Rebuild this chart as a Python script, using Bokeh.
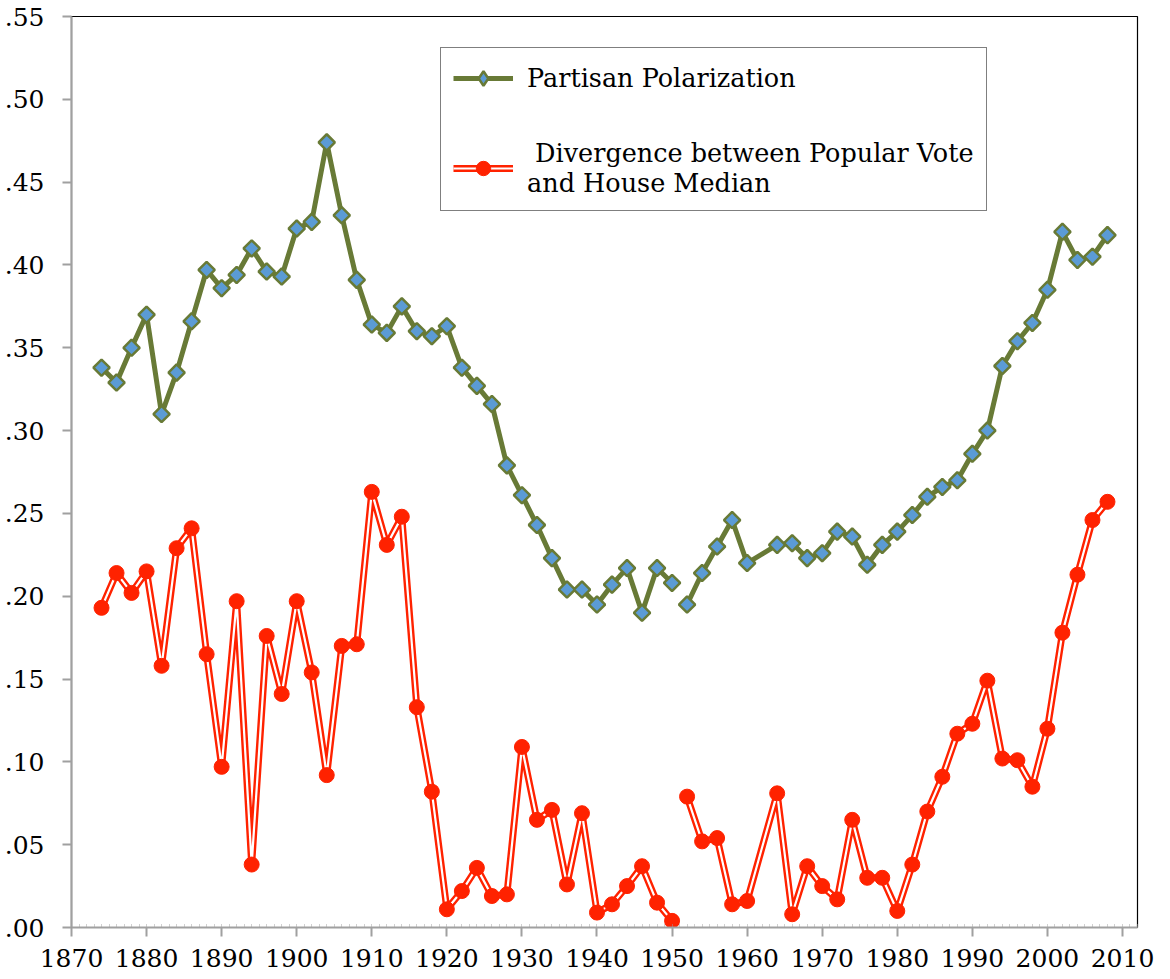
import math
from bokeh.plotting import figure
from bokeh.models import (Range1d, FixedTicker, CustomJSTickFormatter, Legend,
                          LegendItem, Label)
from bokeh.embed import file_html
from bokeh.resources import INLINE

# ---------------- data ----------------
years = [1874, 1876, 1878, 1880, 1882, 1884, 1886, 1888, 1890, 1892, 1894, 1896,
         1898, 1900, 1902, 1904, 1906, 1908, 1910, 1912, 1914, 1916, 1918, 1920,
         1922, 1924, 1926, 1928, 1930, 1932, 1934, 1936, 1938, 1940, 1942, 1944,
         1946, 1948, 1950, 1952, 1954, 1956, 1958, 1960, 1964, 1966, 1968, 1970,
         1972, 1974, 1976, 1978, 1980, 1982, 1984, 1986, 1988, 1990, 1992, 1994,
         1996, 1998, 2000, 2002, 2004, 2006, 2008]

polarization = [0.338, 0.329, 0.350, 0.370, 0.310, 0.335, 0.366, 0.397, 0.386, 0.394,
                0.410, 0.396, 0.393, 0.422, 0.426, 0.474, 0.430, 0.391, 0.364, 0.359,
                0.375, 0.360, 0.357, 0.363, 0.338, 0.327, 0.316, 0.279, 0.261, 0.243,
                0.223, 0.204, 0.204, 0.195, 0.207, 0.217, 0.190, 0.217, 0.208, 0.195,
                0.214, 0.230, 0.246, 0.220, 0.231, 0.232, 0.223, 0.226, 0.239, 0.236,
                0.219, 0.231, 0.239, 0.249, 0.260, 0.266, 0.270, 0.286, 0.300, 0.339,
                0.354, 0.365, 0.385, 0.420, 0.403, 0.405, 0.418]

divergence = [0.193, 0.214, 0.202, 0.215, 0.158, 0.229, 0.241, 0.165, 0.097, 0.197,
              0.038, 0.176, 0.141, 0.197, 0.154, 0.092, 0.170, 0.171, 0.263, 0.231,
              0.248, 0.133, 0.082, 0.011, 0.022, 0.036, 0.019, 0.020, 0.109, 0.065,
              0.071, 0.026, 0.069, 0.009, 0.014, 0.025, 0.037, 0.015, 0.004, 0.079,
              0.052, 0.054, 0.014, 0.016, 0.081, 0.008, 0.037, 0.025, 0.017, 0.065,
              0.030, 0.030, 0.010, 0.038, 0.070, 0.091, 0.117, 0.123, 0.149, 0.102,
              0.101, 0.085, 0.120, 0.178, 0.213, 0.246, 0.257]

break_after_year = 1950          # the lines are interrupted between 1950 and 1952
x_ticks = [1870, 1880, 1890, 1900, 1910, 1920, 1930, 1940, 1950, 1960, 1970,
           1980, 1990, 2000, 2010]
x_minor_ticks = list(range(1870, 2013))
y_ticks = [0.00, 0.05, 0.10, 0.15, 0.20, 0.25, 0.30, 0.35, 0.40, 0.45, 0.50, 0.55]
title_text = "House"
label_polar = "Partisan Polarization"
label_diverg = " Divergence between Popular Vote\nand House Median"

# ---------------- styles ----------------
GREEN = "#687A36"
BLUE = "#5B9BD5"
RED = "#FF2200"
AXIS_GRAY = "#A0A0A0"
FONT = "DejaVu Serif"

p = figure(frame_width=1066, frame_height=911,
           x_range=Range1d(1870, 2012), y_range=Range1d(0, 0.55),
           output_backend="svg", toolbar_location=None,
           min_border_left=71, min_border_top=16, min_border_right=19,
           min_border_bottom=44, background_fill_color="white",
           border_fill_color="white")

p.xgrid.visible = False
p.ygrid.visible = False
p.outline_line_color = "black"
p.outline_line_width = 1.2

# axes
for ax in (p.xaxis[0], p.yaxis[0]):
    ax.axis_line_color = AXIS_GRAY
    ax.axis_line_width = 2
    ax.major_tick_line_color = AXIS_GRAY
    ax.major_tick_line_width = 2
    ax.major_tick_in = 0
    ax.major_tick_out = 9
    ax.major_label_text_font = FONT
    ax.major_label_text_font_size = "25px"
    ax.major_label_text_color = "black"

p.xaxis.ticker = FixedTicker(ticks=x_ticks, minor_ticks=x_minor_ticks)
p.xaxis.minor_tick_in = 3
p.xaxis.minor_tick_out = 0
p.xaxis.minor_tick_line_color = AXIS_GRAY
p.xaxis.minor_tick_line_dash = "1 1"
p.xaxis.major_label_standoff = 12

p.yaxis.ticker = FixedTicker(ticks=y_ticks, minor_ticks=[])
p.yaxis.minor_tick_line_color = None
p.yaxis.major_label_standoff = 18
p.yaxis.formatter = CustomJSTickFormatter(
    code="return tick.toFixed(2).replace(/^0/, '');")

# split indices for the line break
idx_a = [i for i, y in enumerate(years) if y <= break_after_year]
idx_b = [i for i, y in enumerate(years) if y > break_after_year]

def sub(arr, idx):
    return [arr[i] for i in idx]

# ---- red double line series ----
red_renderers = []
for idx in (idx_a, idx_b):
    xs, ys = sub(years, idx), sub(divergence, idx)
    r_out = p.line(xs, ys, line_color=RED, line_width=7, line_join="round")
    r_in = p.line(xs, ys, line_color="white", line_width=2.2, line_join="round")
    red_renderers.extend([r_out, r_in])
red_pts = p.scatter(years, divergence, marker="circle", size=15,
                    fill_color=RED, line_color=RED, line_width=1)

# ---- green polarization series ----
green_renderers = []
for idx in (idx_a, idx_b):
    g = p.line(sub(years, idx), sub(polarization, idx), line_color=GREEN,
               line_width=5, line_join="round")
    green_renderers.append(g)
# diamond marker (used as the legend key; hidden under the rotated squares)
green_key = p.scatter(years, polarization, marker="diamond", size=12,
                      fill_color=BLUE, line_color=GREEN, line_width=2.5)
green_pts = p.scatter(years, polarization, marker="square", size=11.5,
                      angle=math.pi / 4, fill_color=BLUE, line_color=GREEN,
                      line_width=2.5)

# ---- legend ----
legend = Legend(items=[
    LegendItem(label=label_polar, renderers=[green_renderers[0], green_key]),
    LegendItem(label=label_diverg,
               renderers=[red_renderers[0], red_renderers[1], red_pts]),
], location=(369, 716))
legend.border_line_color = "black"
legend.border_line_width = 1
legend.background_fill_color = "white"
legend.background_fill_alpha = 1
legend.label_text_font = FONT
legend.label_text_font_size = "25.5px"
legend.label_text_line_height = 1.3
legend.label_text_color = "black"
legend.glyph_width = 60
legend.glyph_height = 36
legend.label_standoff = 14
legend.padding = 12
legend.spacing = 42
legend.margin = 0
p.add_layout(legend, "center")

# ---- clipped title at top ----
title = Label(x=1940.5, y=0.55, y_offset=11, text=title_text,
              text_font=FONT, text_font_size="29px",
              text_font_style="bold", text_align="center",
              text_baseline="alphabetic", text_color="black")
p.add_layout(title)

open("out.html", "w").write(file_html(p, INLINE))
